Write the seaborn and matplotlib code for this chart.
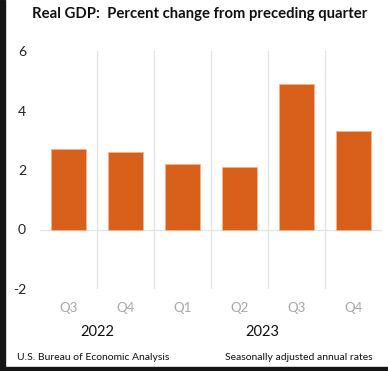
import numpy as np
import pandas as pd
import matplotlib
matplotlib.use("Agg")
import matplotlib.pyplot as plt
import seaborn as sns

# ── Data ──────────────────────────────────────────────────────────────────────
periods  = ["2022 Q3", "2022 Q4", "2023 Q1", "2023 Q2", "2023 Q3", "2023 Q4"]
quarters = ["Q3", "Q4", "Q1", "Q2", "Q3", "Q4"]
gdp_pct  = [2.7, 2.6, 2.2, 2.1, 4.9, 3.3]
years    = ["2022", "2023"]
yticks   = [-2, 0, 2, 4, 6]

df = pd.DataFrame({"period": periods, "pct": gdp_pct})

sns.set_style("white")
plt.rcParams["font.family"] = ["Lato", "DejaVu Sans"]

BAR  = "#D9601A"
GRID = "#E3E3E3"

fig = plt.figure(figsize=(3.88, 3.71), dpi=100)
ax = fig.add_axes([40/388, 1 - 289/371, 342/388, 238/371])

sns.barplot(data=df, x="period", y="pct", color=BAR, width=0.61,
            edgecolor="#F2B48F", linewidth=0.6, saturation=1, ax=ax, zorder=3)

for xb in np.arange(0.5, len(periods) - 0.5, 1):
    ax.axvline(xb, color=GRID, lw=0.9, zorder=1)
ax.axhline(0, color=GRID, lw=0.9, zorder=2)

ax.set_xlim(-0.5, len(periods) - 0.5)
ax.set_ylim(-2, 6)
ax.set_yticks(yticks)
ax.set_yticklabels([str(t) for t in yticks], fontsize=10, color="#222222")
ax.set_xticks(range(len(periods)))
ax.set_xticklabels(quarters, fontsize=9.5, color="#A8A8A8")
ax.tick_params(axis="y", length=0, pad=10)
ax.tick_params(axis="x", length=0, pad=9)
ax.set_xlabel("")
ax.set_ylabel("")
for s in ax.spines.values():
    s.set_visible(False)

# year labels below the quarters
trans = ax.get_xaxis_transform()
ax.text(0.5, -0.18, years[0], transform=trans, ha="center", va="center",
        fontsize=10.5, color="#111111")
ax.text(3.4, -0.18, years[1], transform=trans, ha="center", va="center",
        fontsize=10.5, color="#111111")

fig.text(200/388, 1 - 14/371, "Real GDP:  Percent change from preceding quarter",
         ha="center", va="center", fontsize=10.7, fontweight="bold", color="#111111")
fig.text(17/388, 1 - 358/371, "U.S. Bureau of Economic Analysis",
         ha="left", va="center", fontsize=7.5, color="#111111")
fig.text(373/388, 1 - 358/371, "Seasonally adjusted annual rates",
         ha="right", va="center", fontsize=7.5, color="#111111")

# dark frame edges of the screenshot
fig.patches.append(plt.Rectangle((0, 0), 5/388, 1, transform=fig.transFigure,
                                 color="#151515", zorder=10))
fig.patches.append(plt.Rectangle((0, 0), 1, 4/371, transform=fig.transFigure,
                                 color="#151515", zorder=10))

fig.savefig("out.png", dpi=100)
